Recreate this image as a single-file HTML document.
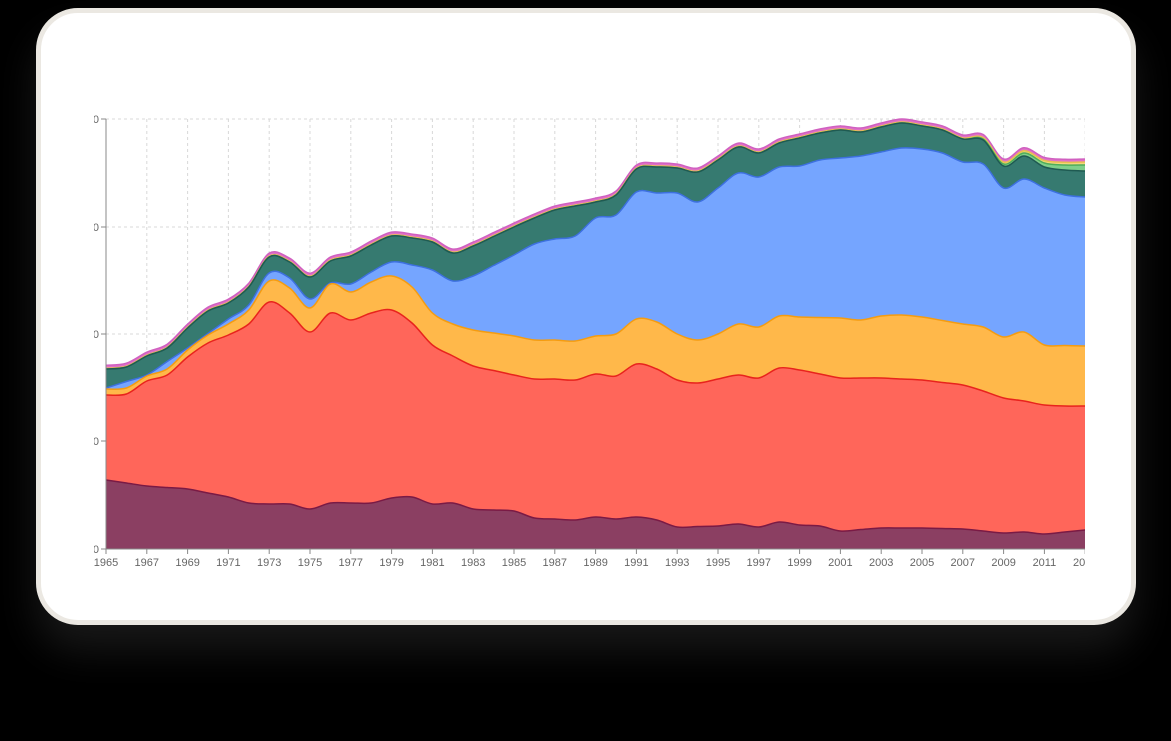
<!DOCTYPE html>
<html><head><meta charset="utf-8"><style>
html,body{margin:0;padding:0;background:#000;width:1171px;height:741px;overflow:hidden}
.card{position:absolute;left:36px;top:8px;width:1090px;height:607px;background:#fff;border:5px solid #ebe8e2;border-radius:42px;box-shadow:0 25px 40px rgba(70,70,70,.35)}
svg{position:absolute;left:0;top:0}
text{font-family:"Liberation Sans",sans-serif;font-size:11px;fill:#666}
</style></head><body>
<div class="card"></div>
<svg id="s" width="1171" height="741" viewBox="0 0 1171 741">
<defs><clipPath id="c"><rect x="94" y="100" width="991" height="480"/></clipPath></defs>
<g id="g" clip-path="url(#c)"></g>
</svg>
<script>
const NS="http://www.w3.org/2000/svg";
const g=document.getElementById('g');
function X(y){return 106+(y-1965)*20.4;}
function el(t,a,txt){const e=document.createElementNS(NS,t);for(const k in a)e.setAttribute(k,a[k]);if(txt!=null)e.textContent=txt;g.appendChild(e);return e;}
function interp(obj){const ks=Object.keys(obj).map(Number).sort((a,b)=>a-b);const out=[];for(let y=1965;y<=2013;y++){let i=0;while(i<ks.length-1&&ks[i+1]<y)i++;const a=ks[i],b=ks[Math.min(i+1,ks.length-1)];if(y<=a||a===b){out.push(obj[a]);continue;}out.push(obj[a]+(obj[b]-obj[a])*(y-a)/(b-a));}return out;}
const purple=interp({1965:480,1967:486,1969:489,1971:497,1972:503,1973:504,1974:504,1975:509,1976:503,1977:503,1978:503,1979:498,1980:497,1981:504,1982:503,1983:509,1985:511,1986:518,1987:519,1988:520,1989:517,1990:519,1991:517,1992:520,1993:527,1995:526,1996:524,1997:527,1998:522,1999:525,2000:526,2001:531,2003:528,2005:528,2007:529,2009:533,2010:532,2011:534,2013:530});
const red=interp({1965:395,1966:394,1967:381,1968:375,1969:357,1970:343,1971:335,1972:324,1973:302,1974:313,1975:332,1976:313,1977:320,1978:313,1979:310,1980:323,1981:345,1982:356,1983:366,1985:375,1986:379,1987:379,1988:380,1989:374,1990:376,1991:364,1992:369,1993:380,1994:383,1995:379,1996:375,1997:378,1998:368,1999:370,2001:378,2003:378,2005:380,2007:385,2008:391,2009:398,2010:401,2011:405,2012:406,2013:406});
const orange=interp({1965:389,1966:388,1967:376,1968:369,1969:350,1970:335,1971:324,1972:310,1973:281,1974:288,1975:308,1976:284,1977:292,1978:282,1979:276,1980:287,1981:313,1982:324,1983:330,1985:336,1986:340,1987:340,1988:341,1989:336,1990:334,1991:319,1992:322,1993:334,1994:340,1995:334,1996:324,1997:327,1998:316,1999:317,2001:318,2002:320,2003:316,2004:315,2005:317,2007:324,2008:327,2009:337,2010:332,2011:345,2013:346});
const blue=interp({1965:388,1967:375,1969:348,1971:319,1972:305,1973:273,1974:278,1975:299,1976:283,1977:284,1978:272,1979:262,1980:265,1981:270,1982:281,1983:276,1985:255,1986:244,1987:239,1988:236,1989:218,1990:215,1991:192,1992:193,1993:193,1994:202,1995:188,1996:173,1997:177,1998:167,1999:166,2000:160,2001:158,2002:156,2003:152,2004:148,2005:149,2006:153,2007:162,2008:164,2009:188,2010:179,2011:188,2012:195,2013:197});
const teal=interp({1965:369,1966:367,1967:356,1968:348,1969:328,1970:311,1971:303,1972:287,1973:257,1974:262,1975:277,1976:261,1977:256,1978:245,1979:236,1980:238,1981:242,1982:253,1983:246,1985:227,1986:218,1987:210,1988:206,1989:202,1990:195,1991:169,1992:167,1993:168,1994:172,1995:160,1996:147,1997:153,1998:143,1999:138,2000:133,2001:130,2002:132,2003:127,2004:123,2005:126,2006:130,2007:139,2008:140,2009:166,2010:156,2011:167,2012:170,2013:171});
const gth=interp({1965:0,2007:0,2009:2,2011:4,2013:6});
const yth=interp({1965:0.8,2007:1,2009:2,2013:3});
const green=teal.map((v,i)=>v-gth[i]);
const yellow=green.map((v,i)=>v-yth[i]);
const pink=yellow.map(v=>v-3);
function pts(arr){return arr.map((v,i)=>[X(1965+i),v]);}
function smooth(p){let d='';for(let i=0;i<p.length-1;i++){const p0=p[Math.max(i-1,0)],p1=p[i],p2=p[i+1],p3=p[Math.min(i+2,p.length-1)];const c1=[p1[0]+(p2[0]-p0[0])/6,p1[1]+(p2[1]-p0[1])/6],c2=[p2[0]-(p3[0]-p1[0])/6,p2[1]-(p3[1]-p1[1])/6];d+=` C${c1[0].toFixed(1)},${c1[1].toFixed(1)} ${c2[0].toFixed(1)},${c2[1].toFixed(1)} ${p2[0].toFixed(1)},${p2[1].toFixed(1)}`;}return d;}
[119,227,334,441].forEach(y=>el('line',{x1:106,x2:1085,y1:y,y2:y,stroke:'#d8d8d8','stroke-dasharray':'3,3'}));
for(let y=1967;y<=2013;y+=2)el('line',{x1:X(y),x2:X(y),y1:119,y2:549,stroke:'#d8d8d8','stroke-dasharray':'3,3'});
const layers=[[pink,'#e070c8','#d060c0'],[yellow,'#f5d77a','#e8c050'],[green,'#7fcf8a','#4fae5a'],[teal,'#367a70','#1f5a52'],[blue,'#75a5ff','#3d70e0'],[orange,'#ffb84a','#f59c10'],[red,'#ff665a','#e8231d'],[purple,'#8b3f62','#7a1a45']];
layers.forEach(([a,f,s])=>{const p=pts(a);const top='M'+p[0][0]+','+p[0][1]+smooth(p);el('path',{d:top+` L${X(2013)},549 L106,549 Z`,fill:f});el('path',{d:top,fill:'none',stroke:s,'stroke-width':1.5});});
el('line',{x1:106,x2:106,y1:119,y2:549,stroke:'#888','stroke-width':1});
el('line',{x1:106,x2:1085,y1:549,y2:549,stroke:'#888','stroke-width':1});
[119,227,334,441,549].forEach(y=>{el('line',{x1:101,x2:106,y1:y,y2:y,stroke:'#888'});el('text',{x:99,y:y+4,'text-anchor':'end'},'0');});
for(let y=1965;y<=2013;y+=2){el('line',{x1:X(y),x2:X(y),y1:549,y2:554,stroke:'#888'});el('text',{x:X(y),y:566,'text-anchor':'middle'},String(y));}
</script>
</body></html>
